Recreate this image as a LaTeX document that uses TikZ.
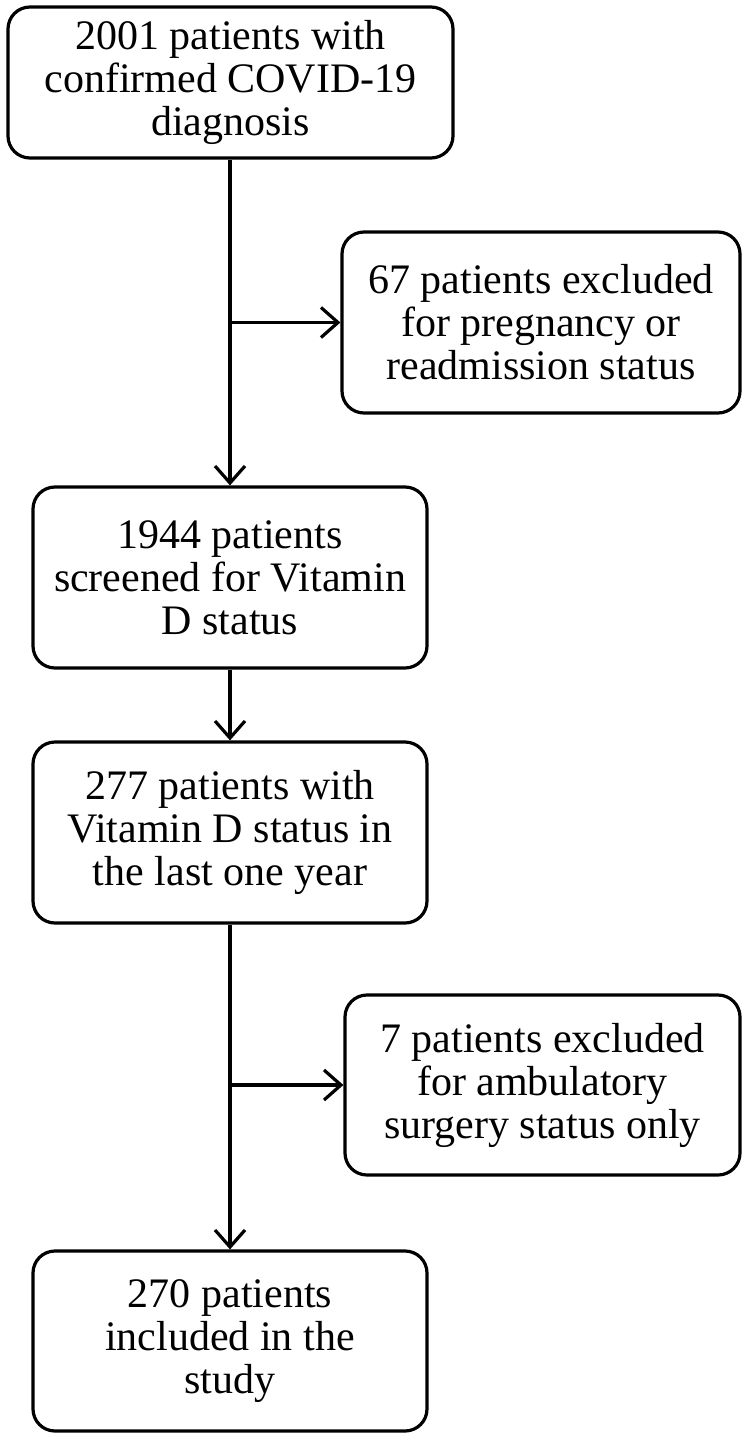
\documentclass[tikz,border=0pt]{standalone}
\usepackage{fontspec}
\setmainfont{Liberation Serif}
\usetikzlibrary{arrows.meta}
\begin{document}
\begin{tikzpicture}[line join=round,x=1pt,y=1pt,
	box/.style={draw,line width=3.2pt,rounded corners=22pt,align=center,inner sep=0pt,
		font=\fontsize{42}{43}\selectfont},
	arr/.style={line width=3.2pt,-{Straight Barb[length=17pt,width=30pt,line width=3.2pt]}}]
	\useasboundingbox (0,0) rectangle (750,-1439);
	\pgfmathsetmacro{\mx}{230}
	\node[box,minimum width=445pt,minimum height=151pt] (start) at (230.5,-82.5) {2001 patients with\\confirmed COVID-19\\diagnosis};
	\node[box,minimum width=398pt,minimum height=181pt] (exA) at (541,-322.5) {67 patients excluded\\for pregnancy or\\readmission status};
	\node[box,minimum width=394pt,minimum height=181pt] (screen) at (\mx,-577.5) {1944 patients\\screened for Vitamin\\D status};
	\node[box,minimum width=394pt,minimum height=181pt] (vitd) at (\mx,-832.5) {277 patients with\\Vitamin D status in\\the last one year};
	\node[box,minimum width=395pt,minimum height=180pt] (exB) at (542.5,-1085) {7 patients excluded\\for ambulatory\\surgery status only};
	\node[box,minimum width=394pt,minimum height=180pt] (incl) at (\mx,-1341) {270 patients\\included in the\\study};
	\coordinate (jA) at (\mx,-322.5);
	\coordinate (jB) at (\mx,-1085);
	\draw[arr] (start.south -| \mx,0) -- (screen.north);
	\draw[arr] (jA) -- (exA.west);
	\draw[arr] (screen) -- (vitd);
	\draw[arr] (vitd) -- (incl);
	\draw[arr] (jB) -- (exB.west);
\end{tikzpicture}
\end{document}
